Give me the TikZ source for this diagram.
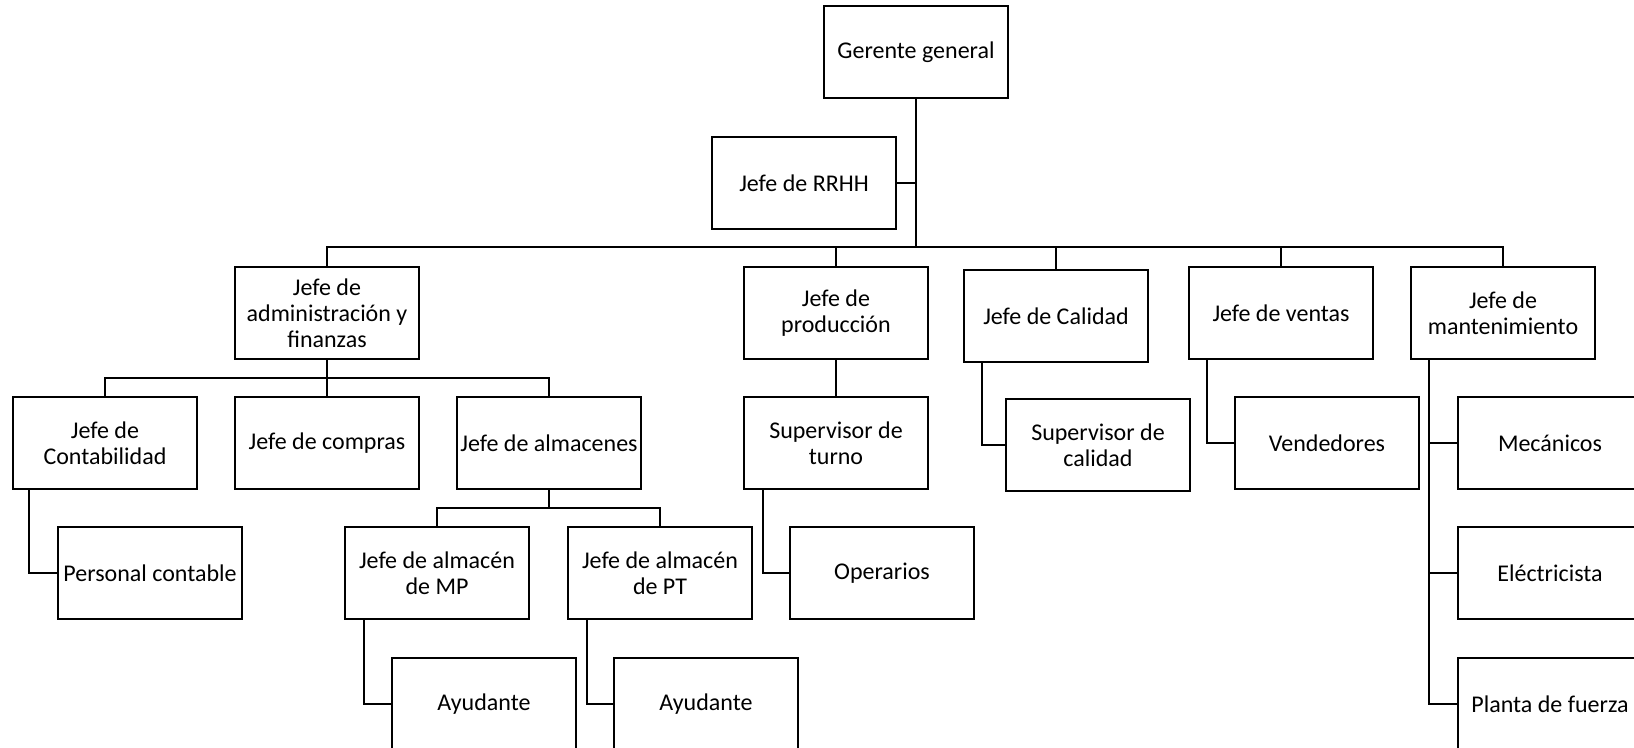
\documentclass[tikz,border=0pt]{standalone}
\usepackage{fontspec}
\setmainfont{Carlito}

\begin{document}
\begin{tikzpicture}[x=0.5pt,y=-0.5pt,font=\fontsize{12}{13}\selectfont]
\tikzset{
% One node style for the chart: a plain box
box node/.style={draw,line width=1pt,minimum width=92pt,minimum height=46pt,align=center,inner sep=0pt}
}
% Specify the look of the connectors
\tikzstyle{org line}=[line width=1pt]
\useasboundingbox (0,0) rectangle (1634,748);
\clip (0,0) rectangle (1634,748);
% The top
\node(gerente)[box node] at (916,52){Gerente general};
\node(rrhh)[box node] at (804,183){Jefe de RRHH};
% The heads
\node(admin)[box node] at (327,313){Jefe de\\administración y\\finanzas};
\node(produccion)[box node] at (836,313){Jefe de\\producción};
\node(calidad)[box node] at (1056,316){Jefe de Calidad};
\node(ventas)[box node] at (1281,313){Jefe de ventas};
\node(mant)[box node] at (1503,313){Jefe de\\mantenimiento};
% Under administration
\node(contab)[box node] at (105,443){Jefe de\\Contabilidad};
\node(compras)[box node] at (327,443){Jefe de compras};
\node(almacenes)[box node] at (549,443){Jefe de almacenes};
\node(personal)[box node] at (150,573){Personal contable};
\node(mp)[box node] at (437,573){Jefe de almacén\\de MP};
\node(pt)[box node] at (660,573){Jefe de almacén\\de PT};
\node(ayudmp)[box node] at (484,704){Ayudante};
\node(ayudpt)[box node] at (706,704){Ayudante};
% Under the other heads
\node(turno)[box node] at (836,443){Supervisor de\\turno};
\node(operarios)[box node] at (882,573){Operarios};
\node(supcal)[box node] at (1098,445){Supervisor de\\calidad};
\node(vendedores)[box node] at (1327,443){Vendedores};
\node(mecanicos)[box node] at (1550,443){Mecánicos};
\node(electricista)[box node] at (1550,573){Eléctricista};
\node(planta)[box node] at (1550,704){Planta de fuerza};
% The connectors
\coordinate (bus) at (916,247);
\coordinate (adminbus) at (327,378);
\coordinate (almbus) at (549,508);
\draw[org line] (gerente.south) -- (bus);
\draw[org line] (rrhh.east) -- (rrhh.east -| bus);
\foreach \n in {admin,produccion,calidad,ventas,mant}
  \draw[org line] (bus) -| (\n.north);
\draw[org line] (admin.south) -- (adminbus);
\foreach \n in {contab,compras,almacenes}
  \draw[org line] (adminbus) -| (\n.north);
\draw[org line] (almacenes.south) -- (almbus);
\foreach \n in {mp,pt}
  \draw[org line] (almbus) -| (\n.north);
\draw[org line] (produccion.south) -- (turno.north);
\draw[org line] ([shift={(17,0)}]contab.south west) |- (personal.west);
\draw[org line] ([shift={(20,0)}]mp.south west) |- (ayudmp.west);
\draw[org line] ([shift={(20,0)}]pt.south west) |- (ayudpt.west);
\draw[org line] ([shift={(20,0)}]turno.south west) |- (operarios.west);
\draw[org line] ([shift={(19,0)}]calidad.south west) |- (supcal.west);
\draw[org line] ([shift={(19,0)}]ventas.south west) |- (vendedores.west);
\coordinate (mantline) at ([shift={(19,0)}]mant.south west);
\foreach \n in {mecanicos,electricista,planta}
  \draw[org line] (mantline) |- (\n.west);
\end{tikzpicture}
\end{document}
